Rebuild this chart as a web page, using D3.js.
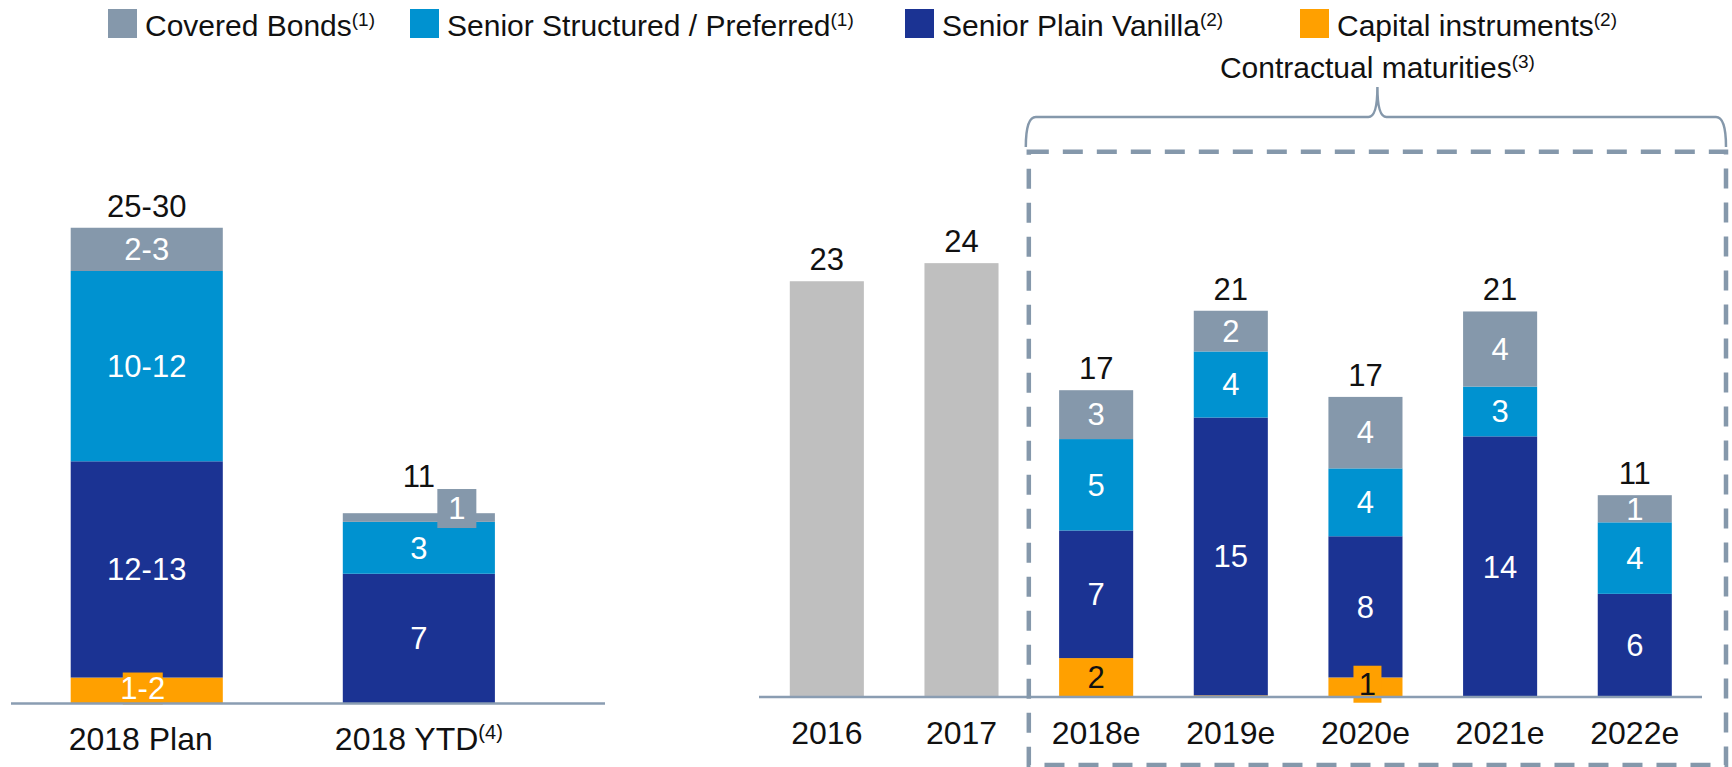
<!DOCTYPE html>
<html lang="en">
<head>
  <meta charset="UTF-8">
  <title>Funding plan and contractual maturities</title>
  <style>
    body { margin: 0; background: #fff; }
    svg { display: block; font-family: "Liberation Sans", Arial, sans-serif; }
    .lbl { font-size: 31px; text-anchor: middle; }
    .cat { font-size: 32px; }
    .axis-line { stroke: #8a9db2; stroke-width: 2.5px; }
  </style>
</head>
<body>
  <script src="https://cdn.jsdelivr.net/npm/d3@7"></script>
  <script>
    // series (stack order bottom -> top is capital, plain, structured, covered)
    const seriesKeys = ["covered", "structured", "plain", "capital"];
    const seriesNames = ["Covered Bonds", "Senior Structured / Preferred", "Senior Plain Vanilla", "Capital instruments"];
    const seriesNotes = ["(1)", "(1)", "(2)", "(2)"];
    const seriesColors = ["#8598ab", "#0092d0", "#1b3393", "#ffa000"];

    // left panel: 2018 plan vs year to date
    const planCats = ["2018 Plan", "2018 YTD"];
    const planCatNotes = ["", "(4)"];
    const planCapital = [1.5, 0];
    const planPlain = [12.5, 7.5];
    const planStructured = [11, 3];
    const planCovered = [2.5, 0.5];
    const planCapitalLbl = ["1-2", ""];
    const planPlainLbl = ["12-13", "7"];
    const planStructuredLbl = ["10-12", "3"];
    const planCoveredLbl = ["2-3", "1"];
    const planTotalLbl = ["25-30", "11"];

    // right panel: issuance history and contractual maturities
    const years = ["2016", "2017", "2018e", "2019e", "2020e", "2021e", "2022e"];
    const histYears = ["2016", "2017"];
    const histValues = [22.97, 23.97];
    const histLbl = ["23", "24"];
    const matYears = ["2018e", "2019e", "2020e", "2021e", "2022e"];
    const matCapital = [2.15, 0.09, 1.08, 0, 0];
    const matPlain = [7.05, 15.35, 7.8, 14.4, 5.7];
    const matStructured = [5.05, 3.65, 3.75, 2.75, 3.95];
    const matCovered = [2.7, 2.25, 3.95, 4.15, 1.5];
    const matCapitalLbl = ["2", "", "1", "", ""];
    const matPlainLbl = ["7", "15", "8", "14", "6"];
    const matStructuredLbl = ["5", "4", "4", "3", "4"];
    const matCoveredLbl = ["3", "2", "4", "4", "1"];
    const matTotalLbl = ["17", "21", "17", "21", "11"];

    const width = 1732, height = 767;
    const color = d3.scaleOrdinal().domain(seriesKeys).range(seriesColors);
    const stack = d3.stack().keys(["capital", "plain", "structured", "covered"]);

    // labels that sit on a filled box (offsets relative to the segment centre)
    const callouts = {
      "2018 Plan|capital": {dx: -4, dy: -2, w: 40, h: 32},
      "2018 YTD|covered": {dx: 38, dy: -9, w: 39, h: 39},
      "2020e|capital": {dx: 2, dy: -3, w: 28, h: 37}
    };
    const totalDy = {"2018 YTD": -15};

    const svg = d3.select("body").append("svg")
      .attr("width", width)
      .attr("height", height);

    // legend
    const legendX = [108, 410, 905, 1300];
    const legend = svg.append("g").selectAll("g")
      .data(seriesKeys)
      .enter().append("g")
      .attr("transform", (d, i) => `translate(${legendX[i]},9)`);
    legend.append("rect").attr("width", 29).attr("height", 29).attr("fill", d => color(d));
    const lt = legend.append("text").attr("x", 37).attr("y", 27)
      .style("font-size", "30px").attr("fill", "#111");
    lt.append("tspan").text((d, i) => seriesNames[i]);
    lt.append("tspan").attr("dy", -10).style("font-size", "19px").text((d, i) => seriesNotes[i]);

    function drawStack(g, rows, labelsBy, x, y, capitalTextColor) {
      const layers = stack(rows);
      layers.forEach(layer => {
        const key = layer.key;
        g.append("g").selectAll("rect")
          .data(layer)
          .enter().append("rect")
          .attr("x", d => x(d.data.cat))
          .attr("width", x.bandwidth())
          .attr("y", d => y(d[1]))
          .attr("height", d => Math.max(0, y(d[0]) - y(d[1])))
          .attr("fill", color(key));
      });
      layers.forEach(layer => {
        const key = layer.key;
        layer.forEach((d, i) => {
          const txt = labelsBy[key][i];
          if (!txt) return;
          const c = callouts[d.data.cat + "|" + key] || {dx: 0, dy: 0};
          const cx = x(d.data.cat) + x.bandwidth() / 2 + c.dx;
          const cy = (y(d[0]) + y(d[1])) / 2 + c.dy;
          if (c.w) {
            g.append("rect")
              .attr("x", cx - c.w / 2).attr("y", cy - c.h / 2)
              .attr("width", c.w).attr("height", c.h)
              .attr("fill", color(key));
          }
          g.append("text").attr("class", "lbl")
            .attr("x", cx).attr("y", cy).attr("dy", "0.35em")
            .attr("fill", key === "capital" ? capitalTextColor : "#fff")
            .text(txt);
        });
      });
      // totals
      layers[layers.length - 1].forEach((d, i) => {
        g.append("text").attr("class", "lbl")
          .attr("x", x(d.data.cat) + x.bandwidth() / 2)
          .attr("y", y(d[1]) - 11 + (totalDy[d.data.cat] || 0))
          .attr("fill", "#111")
          .text(labelsBy.total[i]);
      });
    }

    // ---- left panel
    const xL = d3.scaleBand().domain(planCats).range([70.7, 494.9]).paddingInner(0.441).paddingOuter(0);
    const yL = d3.scaleLinear().domain([0, 30]).range([703.5, 184.5]);
    const planRows = planCats.map((c, i) => ({
      cat: c, capital: planCapital[i], plain: planPlain[i],
      structured: planStructured[i], covered: planCovered[i]
    }));
    const gL = svg.append("g");
    drawStack(gL, planRows, {
      capital: planCapitalLbl, plain: planPlainLbl, structured: planStructuredLbl,
      covered: planCoveredLbl, total: planTotalLbl
    }, xL, yL, "#fff");
    gL.append("line").attr("class", "axis-line")
      .attr("x1", 11).attr("x2", 605).attr("y1", yL(0)).attr("y2", yL(0));
    const catL = gL.selectAll("text.cat")
      .data(planCats).enter().append("text")
      .attr("class", "lbl cat").attr("fill", "#111")
      .attr("x", (d, i) => xL(d) + xL.bandwidth() / 2 - (i === 0 ? 6 : 0))
      .attr("y", yL(0) + 46);
    catL.append("tspan").text(d => d);
    catL.append("tspan").attr("dy", -11).style("font-size", "20px").text((d, i) => planCatNotes[i]);

    // ---- right panel
    const xR = d3.scaleBand().domain(years).range([789.8, 1671.8]).paddingInner(0.45).paddingOuter(0);
    const yR = d3.scaleLinear().domain([0, 25]).range([697, 244.5]);
    const gR = svg.append("g");

    gR.selectAll("rect.hist")
      .data(histYears).enter().append("rect")
      .attr("class", "hist")
      .attr("x", d => xR(d)).attr("width", xR.bandwidth())
      .attr("y", (d, i) => yR(histValues[i]))
      .attr("height", (d, i) => yR(0) - yR(histValues[i]))
      .attr("fill", "#bfbfbf");
    gR.selectAll("text.hist")
      .data(histYears).enter().append("text")
      .attr("class", "lbl hist").attr("fill", "#111")
      .attr("x", d => xR(d) + xR.bandwidth() / 2)
      .attr("y", (d, i) => yR(histValues[i]) - 11)
      .text((d, i) => histLbl[i]);

    const matRows = matYears.map((c, i) => ({
      cat: c, capital: matCapital[i], plain: matPlain[i],
      structured: matStructured[i], covered: matCovered[i]
    }));
    drawStack(gR, matRows, {
      capital: matCapitalLbl, plain: matPlainLbl, structured: matStructuredLbl,
      covered: matCoveredLbl, total: matTotalLbl
    }, xR, yR, "#111");

    gR.append("line").attr("class", "axis-line")
      .attr("x1", 759).attr("x2", 1702).attr("y1", yR(0)).attr("y2", yR(0));
    gR.selectAll("text.cat")
      .data(years).enter().append("text")
      .attr("class", "lbl cat").attr("fill", "#111")
      .attr("x", d => xR(d) + xR.bandwidth() / 2)
      .attr("y", yR(0) + 47)
      .text(d => d);

    // dashed frame around the contractual maturities + brace
    const gap = xR.step() * xR.paddingInner();
    const boxL = xR(matYears[0]) - gap / 2;
    const boxR = 1726;
    const boxT = 151.7, boxB = 765;
    svg.append("rect")
      .attr("x", boxL).attr("y", boxT)
      .attr("width", boxR - boxL).attr("height", boxB - boxT)
      .attr("fill", "none").attr("stroke", "#8598ab")
      .attr("stroke-width", 4.5).attr("stroke-dasharray", "20,14");

    const mid = (boxL + boxR) / 2;
    const bl = boxL - 3, br = boxR, by = 117, bb = 147, bt = 87;
    svg.append("path")
      .attr("d", `M${bl},${bb} Q${bl},${by} ${bl + 10},${by} L${mid - 9},${by} Q${mid},${by} ${mid},${bt}` +
        ` Q${mid},${by} ${mid + 9},${by} L${br - 10},${by} Q${br},${by} ${br},${bb}`)
      .attr("fill", "none").attr("stroke", "#8598ab").attr("stroke-width", 2.5);

    const ct = svg.append("text").attr("class", "lbl").attr("fill", "#111")
      .style("font-size", "30px")
      .attr("x", mid).attr("y", 78);
    ct.append("tspan").text("Contractual maturities");
    ct.append("tspan").attr("dy", -10).style("font-size", "19px").text("(3)");
  </script>
</body>
</html>
